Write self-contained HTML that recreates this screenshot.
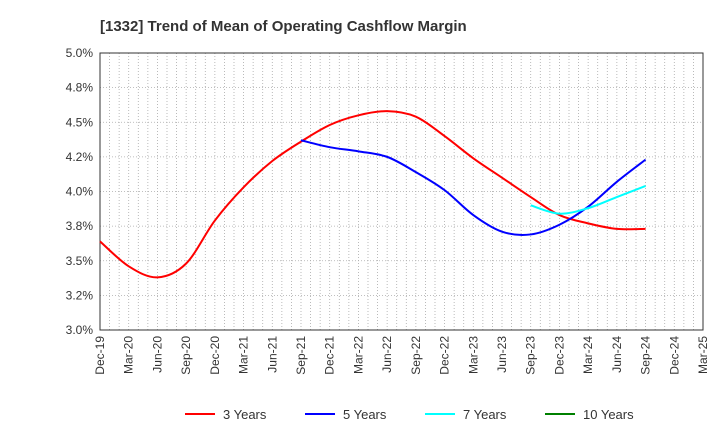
<!DOCTYPE html>
<html><head><meta charset="utf-8"><style>
body{margin:0;background:#fff;font-family:"Liberation Sans",sans-serif}
</style></head><body>
<svg id="chart" width="720" height="440" xmlns="http://www.w3.org/2000/svg" font-family="Liberation Sans, sans-serif">
<text x="100" y="31" font-size="15" font-weight="bold" fill="#333">[1332]  Trend of Mean of Operating Cashflow Margin</text>
<g id="grid"></g><g id="axes"></g><g id="series"></g><g id="legend"></g>
</svg>
<script>
const xLabels=["Dec-19","Mar-20","Jun-20","Sep-20","Dec-20","Mar-21","Jun-21","Sep-21","Dec-21","Mar-22","Jun-22","Sep-22","Dec-22","Mar-23","Jun-23","Sep-23","Dec-23","Mar-24","Jun-24","Sep-24","Dec-24","Mar-25"];
const yTicks=[3.0,3.25,3.5,3.75,4.0,4.25,4.5,4.75,5.0];
const yTickLabels=["3.0%","3.2%","3.5%","3.8%","4.0%","4.2%","4.5%","4.8%","5.0%"];
const y3=[3.64,3.46,3.38,3.48,3.79,4.03,4.22,4.36,4.48,4.55,4.58,4.54,4.40,4.24,4.10,3.96,3.83,3.77,3.73,3.73];
const y5=[4.37,4.32,4.29,4.25,4.14,4.01,3.83,3.71,3.69,3.76,3.89,4.07,4.23];
const y7=[3.90,3.84,3.88,3.96,4.04];
const y10=[];
const start3=0,start5=7,start7=15,start10=19;
const L=100,R=703,T=53,B=330;
const NS="http://www.w3.org/2000/svg";
const xs=i=>L+i*(R-L)/(xLabels.length-1);
const ys=v=>B-(v-3)/2*(B-T);
function mk(t,a,p){const e=document.createElementNS(NS,t);for(const k in a)e.setAttribute(k,a[k]);p.appendChild(e);return e;}
const grid=document.getElementById('grid'),axes=document.getElementById('axes'),ser=document.getElementById('series'),leg=document.getElementById('legend');
mk('rect',{x:L,y:T,width:R-L,height:B-T,fill:'#fff'},grid);
for(let m=1;m<(xLabels.length-1)*3;m++){const x=L+m*(R-L)/((xLabels.length-1)*3);
const g=mk('line',{x1:x,x2:x,y1:T,y2:B,stroke:'#aaa','stroke-width':0.8,'stroke-dasharray':'1,2'},grid);

}
yTicks.forEach((v,i)=>{const y=ys(v);
const g=mk('line',{x1:L,x2:R,y1:y,y2:y,stroke:'#aaa','stroke-width':0.8,'stroke-dasharray':'1,2'},grid);


const t=mk('text',{x:L-7,y:y+4,'text-anchor':'end','font-size':12,fill:'#333'},axes);t.textContent=yTickLabels[i];

});
const fr=mk('rect',{x:L,y:T,width:R-L,height:B-T,fill:'none',stroke:'#333','stroke-width':1},axes);


xLabels.forEach((l,i)=>{const x=xs(i);
const t=mk('text',{x:0,y:0,transform:`translate(${x+4},${B+6}) rotate(-90)`,'text-anchor':'end','font-size':12,fill:'#333'},axes);t.textContent=l;

});
function path(vals,st){const p=vals.map((v,i)=>[xs(st+i),ys(v)]);if(p.length<2)return '';
let d=`M${p[0][0]},${p[0][1]}`;
for(let i=0;i<p.length-1;i++){const p0=p[i-1]||p[i],p1=p[i],p2=p[i+1],p3=p[i+2]||p2;
d+=` C${p1[0]+(p2[0]-p0[0])/6},${p1[1]+(p2[1]-p0[1])/6} ${p2[0]-(p3[0]-p1[0])/6},${p2[1]-(p3[1]-p1[1])/6} ${p2[0]},${p2[1]}`;}
return d;}
[[y3,start3,'#ff0000','line-3-years'],[y5,start5,'#0000ff','line-5-years'],[y7,start7,'#00ffff','line-7-years'],[y10,start10,'#008000','line-10-years']].forEach(s=>{
const d=path(s[0],s[1]);if(!d)return;
const e=mk('path',{d:d,fill:'none',stroke:s[2],'stroke-width':2},ser);

});
[['3 Years','#ff0000',185],['5 Years','#0000ff',305],['7 Years','#00ffff',425],['10 Years','#008000',545]].forEach(l=>{
const g=mk('g',{},leg);


mk('line',{x1:l[2],x2:l[2]+30,y1:414,y2:414,stroke:l[1],'stroke-width':2},g);
const t=mk('text',{x:l[2]+38,y:419,'font-size':13,fill:'#333'},g);t.textContent=l[0];});
</script>
</body></html>
